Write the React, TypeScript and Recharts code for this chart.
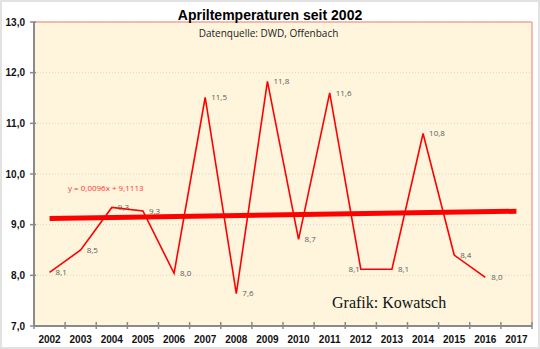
import React from 'react';
import { ComposedChart, Line, XAxis, YAxis, CartesianGrid, ReferenceLine, LabelList } from 'recharts';

const years = [2002, 2003, 2004, 2005, 2006, 2007, 2008, 2009, 2010, 2011, 2012, 2013, 2014, 2015, 2016, 2017];
const temps: (number | null)[] = [8.06, 8.5, 9.34, 9.27, 8.04, 11.51, 7.64, 11.83, 8.71, 11.6, 8.12, 8.12, 10.8, 8.4, 7.96, null];
const yTicks = [7, 8, 9, 10, 11, 12, 13];
const trendSlope = 0.0096;
const trendIntercept = 9.1113;

const data = years.map((year, i) => ({ year, temp: temps[i] }));

const W = 540;
const H = 349;
const PLOT_L = 34;
const PLOT_R = 532;
const HALF_BAND = (PLOT_R - PLOT_L) / years.length / 2;
const AXIS_GRAY = '#8a8a8a';

const fmt = (v: number) => v.toFixed(1).replace('.', ',');

const XTick = (props: any) => {
  const { x, y, payload, index } = props;
  return (
    <g>
      <line x1={x - HALF_BAND} x2={x - HALF_BAND} y1={y - 4} y2={y + 3} stroke={AXIS_GRAY} strokeWidth={1.5} />
      {index === years.length - 1 && (
        <line x1={x + HALF_BAND} x2={x + HALF_BAND} y1={y - 4} y2={y + 3} stroke={AXIS_GRAY} strokeWidth={1.5} />
      )}
      <text x={x} y={y + 16.6} textAnchor="middle" fontSize={10} fontWeight="bold" fontFamily="'Liberation Sans', Arial, sans-serif" fill="#111">
        {payload.value}
      </text>
    </g>
  );
};

const YTick = (props: any) => {
  const { x, y, payload } = props;
  return (
    <g>
      <line x1={x - 4} x2={x + 2} y1={y} y2={y} stroke={AXIS_GRAY} strokeWidth={1.5} />
      <text x={x - 9} y={y} dy="0.36em" textAnchor="end" fontSize={10} fontWeight="bold" fontFamily="'Liberation Sans', Arial, sans-serif" fill="#111">
        {fmt(payload.value)}
      </text>
    </g>
  );
};

const renderLabel = (props: any) => {
  const { x, y, value, index } = props;
  if (value == null) return null;
  const left = years[index] === 2012;
  return (
    <text
      x={left ? x - 1 : x + 6}
      y={y}
      dy="0.35em"
      textAnchor={left ? 'end' : 'start'}
      fontSize={8}
      fill="#595959"
      fontFamily="'Open Sans', sans-serif"
    >
      {fmt(value)}
    </text>
  );
};

export default function App() {
  const firstYear = years[0];
  const lastYear = years[years.length - 1];
  const trendStart = trendSlope * 1 + trendIntercept;
  const trendEnd = trendSlope * (lastYear - firstYear + 1) + trendIntercept;

  return (
    <div style={{ position: 'absolute', left: 0, top: 0, width: W, height: H, background: '#fff' }}>
      <ComposedChart width={W} height={H} data={data} margin={{ top: 22, right: W - PLOT_R, bottom: 0, left: 0 }}>
        <CartesianGrid vertical={false} horizontal={true} fill="#FFF5DD" stroke="#DAD5C8" strokeDasharray="1 2" />
        <XAxis
          dataKey="year"
          type="number"
          domain={[firstYear - 0.5, lastYear + 0.5]}
          ticks={years}
          allowDataOverflow
          height={23}
          tickSize={0}
          tickMargin={0}
          tick={<XTick />}
          axisLine={{ stroke: AXIS_GRAY, strokeWidth: 2 }}
          tickLine={false}
          interval={0}
        />
        <YAxis
          domain={[7, 13]}
          ticks={yTicks}
          width={PLOT_L}
          tickSize={0}
          tickMargin={0}
          tick={<YTick />}
          axisLine={{ stroke: AXIS_GRAY, strokeWidth: 2 }}
          tickLine={false}
          interval={0}
        />
        <ReferenceLine y={13} stroke="#F5A49C" strokeWidth={1.5} />
        <ReferenceLine x={lastYear + 0.5} stroke="#F5A49C" strokeWidth={1.5} />
        <ReferenceLine
          segment={[{ x: firstYear, y: trendStart }, { x: lastYear, y: trendEnd }]}
          stroke="#FF0000"
          strokeWidth={5}
          ifOverflow="visible"
        />
        <Line dataKey="temp" stroke="#FF0000" strokeWidth={1.6} dot={false} isAnimationActive={false} connectNulls={false}>
          <LabelList dataKey="temp" content={renderLabel} />
        </Line>
      </ComposedChart>
      <svg width={W} height={H} style={{ position: 'absolute', left: 0, top: 0, pointerEvents: 'none' }}>
        <rect x={1} y={1} width={W - 2} height={H - 2} fill="none" stroke="#e2e2e2" strokeWidth={2} />
        <text x={270} y={19.5} textAnchor="middle" fontSize={14} fontWeight="bold" fontFamily="'Liberation Sans', Arial, sans-serif" fill="#000">
          Apriltemperaturen seit 2002
        </text>
        <text x={268.5} y={37} textAnchor="middle" fontSize={10} fontFamily="'Open Sans', sans-serif" fill="#222">
          Datenquelle: DWD, Offenbach
        </text>
        <text x={68} y={191} fontSize={8} fontFamily="'Open Sans', sans-serif" fill="#FF3333">
          y = 0,0096x + 9,1113
        </text>
        <text x={332} y={307.5} fontSize={16} fontFamily="'Liberation Serif', 'Times New Roman', serif" fill="#111">
          Grafik: Kowatsch
        </text>
      </svg>
    </div>
  );
}
